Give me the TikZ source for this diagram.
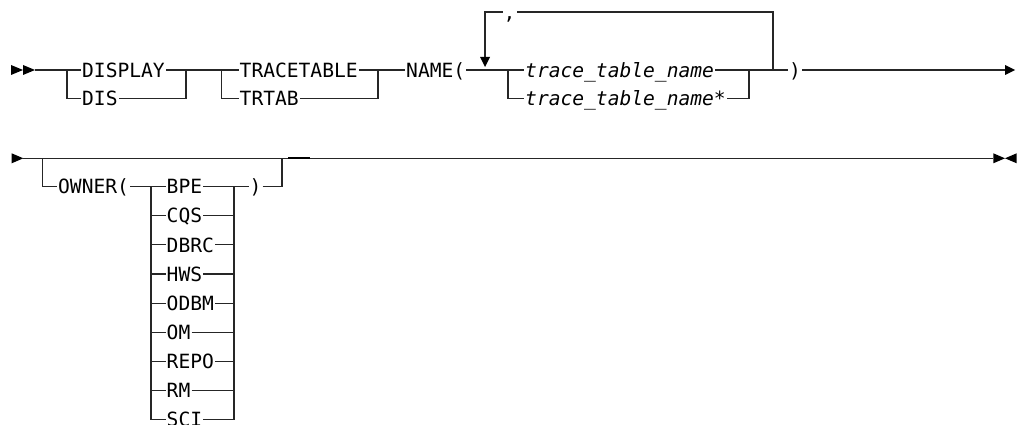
\documentclass[tikz,border=0pt]{standalone}
\usepackage{fontspec}
\setmonofont{DejaVu Sans Mono}
\begin{document}
\begin{tikzpicture}[x=1pt,y=-1pt,
  track/.style={draw=black!85, line width=1.1pt},
  kw/.style={anchor=west, inner xsep=1pt, inner ysep=0pt, text height=14.2pt, text depth=0pt, font=\ttfamily\fontsize{19.6}{22}\selectfont},
  var/.style={kw, font=\ttfamily\itshape\fontsize{19.6}{22}\selectfont},
  tip/.style={fill=black}]
\useasboundingbox (0,0) rectangle (1021,425);
% ---------- row 1 ----------
\coordinate (s1) at (35,70);
\coordinate (b1l) at (67,70);
\coordinate (b1r) at (186,70);
\coordinate (b2l) at (221.5,70);
\coordinate (b2r) at (378,70);
\coordinate (b3l) at (508,70);
\coordinate (b3r) at (749,70);
\coordinate (loopr) at (773,70);
\coordinate (loopa) at (485,57);
\coordinate (e1) at (1005,70);
\node[kw] (display) at (81,70) {DISPLAY};
\node[kw] (dis) at (81,98.3) {DIS};
\node[kw] (tracetable) at (238.5,70) {TRACETABLE};
\node[kw] (trtab) at (238.5,98.3) {TRTAB};
\node[kw] (name) at (405,70) {NAME(};
\node[kw] (comma) at (502.5,12) {,};
\node[var] (ttn) at (524,70) {trace\_table\_name};
\node[var] (ttns) at (524,98.3) {trace\_table\_name*};
\node[kw] (rp1) at (788,70) {)};
\fill[tip] (11,65) -- (23,70) -- (11,75) -- cycle;
\fill[tip] (23,65) -- (35,70) -- (23,75) -- cycle;
\draw[track] (s1) -- (display.west);
\draw[track] (b1l) |- (dis.west);
\draw[track] (display.east) -- (tracetable.west);
\draw[track] (dis.east) -| (b1r);
\draw[track] (b2l) |- (trtab.west);
\draw[track] (tracetable.east) -- (name.west);
\draw[track] (trtab.east) -| (b2r);
\draw[track] (name.east) -- (ttn.west);
\draw[track] (b3l) |- (ttns.west);
\draw[track] (ttn.east) -- (rp1.west);
\draw[track] (ttns.east) -| (b3r);
\draw[track] (loopr) |- (comma.east);
\draw[track] (comma.west) -| (loopa);
\fill[tip] (480,57) -- (490,57) -- (485,67) -- cycle;
\draw[track] (rp1.east) -- (e1);
\fill[tip] (1005,65) -- (1015,70) -- (1005,75) -- cycle;
% ---------- row 2 ----------
\coordinate (s2) at (23.3,158.3);
\coordinate (o1) at (42.7,158.3);
\coordinate (o2) at (282,158.3);
\coordinate (e2) at (993.3,158.3);
\coordinate (ll) at (151,186.7);
\coordinate (lr) at (234,186.7);
\fill[tip] (11.7,153.3) -- (23.3,158.3) -- (11.7,163.3) -- cycle;
\draw[track] (s2) -- (e2);
\draw[black, line width=1.6pt] (288,158.3) -- (310,158.3);
\fill[tip] (993.3,153.3) -- (1005,158.3) -- (993.3,163.3) -- cycle;
\fill[tip] (1016.7,153.3) -- (1005,158.3) -- (1016.7,163.3) -- cycle;
\node[kw] (owner) at (57,186.7) {OWNER(};
\node[kw] (rp2) at (248.5,186.7) {)};
\node[kw] (bpe) at (165.5,186.7) {BPE};
\node[kw] (cqs) at (165.5,215.8) {CQS};
\node[kw] (dbrc) at (165.5,244.9) {DBRC};
\node[kw] (hws) at (165.5,274.0) {HWS};
\node[kw] (odbm) at (165.5,303.1) {ODBM};
\node[kw] (om) at (165.5,332.2) {OM};
\node[kw] (repo) at (165.5,361.3) {REPO};
\node[kw] (rm) at (165.5,390.4) {RM};
\node[kw] (sci) at (165.5,419.5) {SCI};
\draw[track] (o1) |- (owner.west);
\draw[track] (owner.east) -- (bpe.west);
\draw[track] (bpe.east) -- (rp2.west);
\draw[track] (rp2.east) -| (o2);
\foreach \n in {cqs,dbrc,hws,odbm,om,repo,rm,sci}{
  \draw[track] (ll) |- (\n.west);
  \draw[track] (\n.east) -| (lr);
}
\end{tikzpicture}
\end{document}
